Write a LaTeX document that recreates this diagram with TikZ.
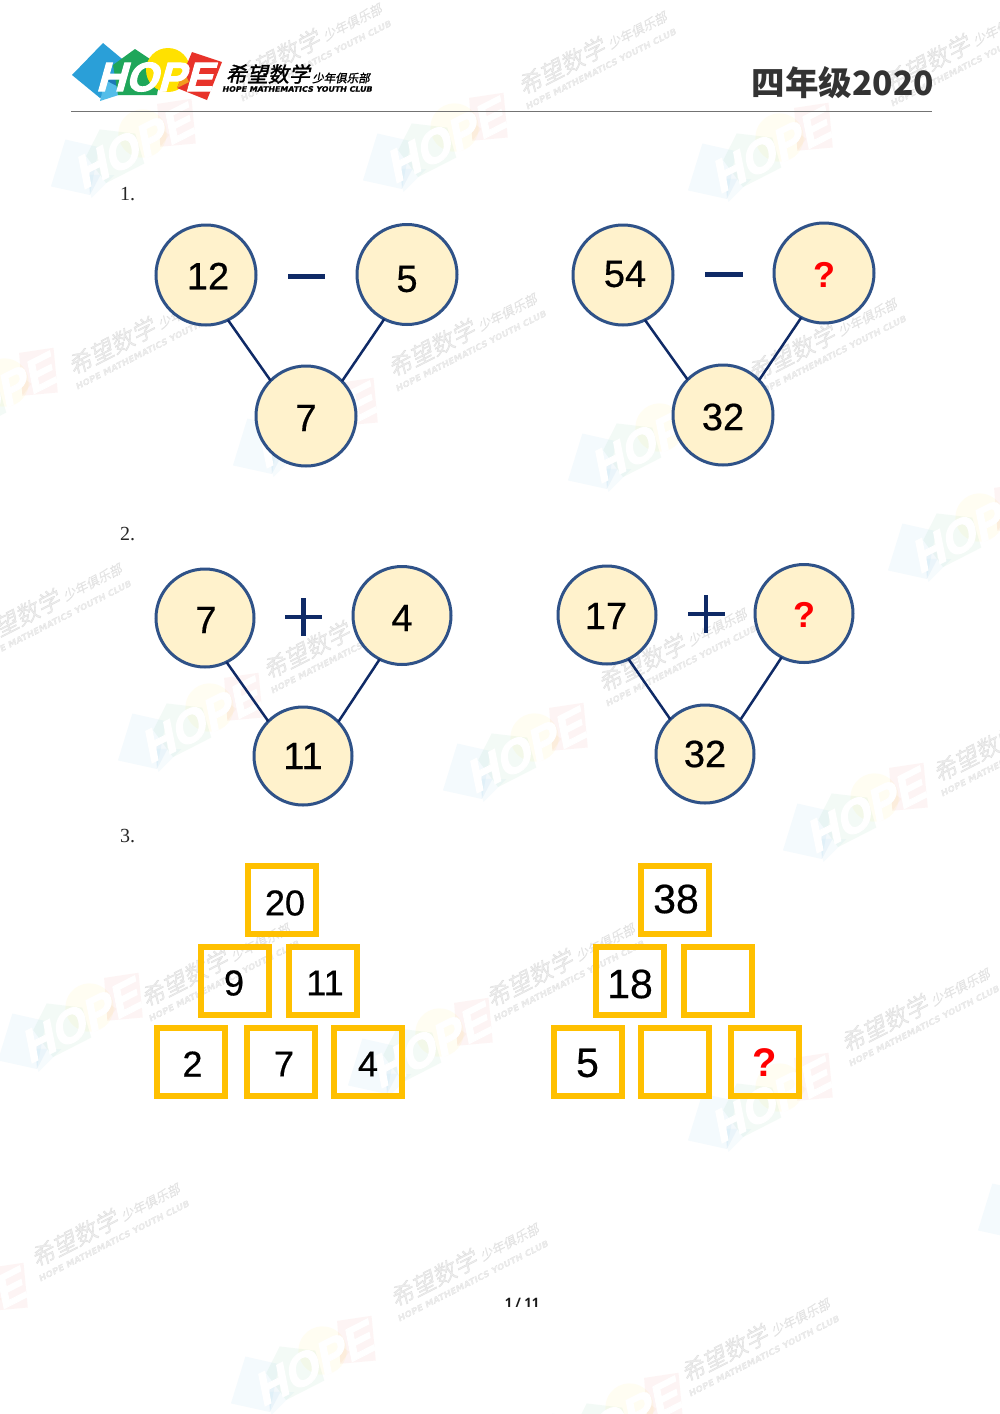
\documentclass[tikz,border=0pt]{standalone}
\usepackage{fontspec}
\setmainfont{Liberation Sans}
\newfontfamily\numfont[FakeBold=0.5]{Liberation Sans}
\newfontfamily\logofont[FakeBold=2.5,FakeSlant=0.28]{Liberation Sans}
\newfontfamily\serifnum{Liberation Serif}
\newfontfamily\cjkfont{Noto Sans CJK SC}
\newfontfamily\cjkslant[FakeSlant=0.2,FakeBold=1.5]{Noto Sans CJK SC}
\newfontfamily\latinslant[FakeBold=1,FakeSlant=0.2,FakeStretch=1.05]{DejaVu Sans}
\newfontfamily\footfont{Open Sans}
\definecolor{cfill}{HTML}{FFF2CC}
\definecolor{cline}{HTML}{2F5288}
\definecolor{navy}{HTML}{0F2A66}
\definecolor{boxc}{HTML}{FFC000}
\definecolor{lblue}{HTML}{2A9FD8}
\definecolor{llight}{HTML}{54BDE9}
\definecolor{ldark}{HTML}{1A78B8}
\definecolor{lgreen}{HTML}{1FA65A}
\definecolor{lyellow}{HTML}{FFE100}
\definecolor{lred}{HTML}{E8332A}
\definecolor{lorange}{HTML}{F39A1E}
\tikzset{
  bigcirc/.style={circle,draw=cline,fill=cfill,line width=3pt,minimum size=100pt,inner sep=0pt,outer sep=0pt},
  midcirc/.style={bigcirc,minimum size=98pt},
  numtxt/.style={inner sep=0pt,outer sep=0pt,font=\numfont\fontsize{38}{38}\selectfont,text=black},
  boxnum/.style={numtxt,font=\numfont\fontsize{36}{36}\selectfont},
  boxnumb/.style={numtxt,font=\numfont\fontsize{41}{41}\selectfont},
  quest/.style={inner sep=0pt,outer sep=0pt,font=\bfseries\fontsize{36}{36}\selectfont,text=red},
  questb/.style={quest,font=\bfseries\fontsize{40}{40}\selectfont},
  conn/.style={draw=navy,line width=2.5pt},
  opbar/.style={draw=navy,line width=5pt},
  opplus/.style={draw=navy,line width=4.5pt},
  numbox/.style={rectangle,draw=boxc,line width=6pt,minimum size=68pt,inner sep=0pt,outer sep=0pt},
  qlabel/.style={inner sep=0pt,font=\serifnum\fontsize{20}{20}\selectfont,text=black!85},
  wmtext/.style={inner sep=0pt,text=black,text opacity=.075}
}
\newcommand{\hopeshapes}[1]{%
  \fill[lblue] (-44,-29) -- (-75,3) -- (-47,26) -- (-20,-9) -- cycle;
  \fill[ldark] (-47,26) -- (-38,8) -- (-26,2) -- (-30,14) -- cycle;
  \fill[llight] (-47,29) -- (-42,8) -- (-19,20) -- cycle;
  \fill[lgreen] (-12,-23) -- (-34,-7) -- (-29,23) -- (10,23) -- (15,-5) -- cycle;
  \fill[lyellow] (21,-2) circle[radius=22];
  \fill[lred] (45,-20) -- (75,-10) -- (60,28) -- (30,16) -- cycle;
  \fill[lorange] (30,16) -- (37,0) -- (42,10) -- cycle;
  \node[inner sep=0pt,text=white,text opacity=1,font=\logofont\bfseries\fontsize{41}{41}\selectfont] (#1) at (7,5) {HOPE};
}
\newcommand{\wmlogo}[3]{%
  \begin{scope}[shift={(#1,#2)},rotate=27,scale=1.1,transform shape,fill opacity=.05]
    \hopeshapes{#3}
  \end{scope}}
\newcommand{\wmword}[3]{%
  \begin{scope}[shift={(#1,#2)},rotate=27,scale=1.12,transform shape]
    \node[wmtext,font=\cjkslant\fontsize{21}{21}\selectfont] (#3a) at (-30,-7) {希望数学};
    \node[wmtext,font=\cjkslant\fontsize{11.5}{11.5}\selectfont] (#3b) at (45,-5) {少年俱乐部};
    \node[wmtext,font=\latinslant\bfseries\fontsize{7.5}{7.5}\selectfont] (#3c) at (0,11) {HOPE MATHEMATICS YOUTH CLUB};
  \end{scope}}
\begin{document}
\begin{tikzpicture}[x=1pt,y=-1pt]
\useasboundingbox (0,0) rectangle (1000,1414);
\fill[white] (0,0) rectangle (1000,1414);
% watermarks
\wmlogo{123}{146}{wa}\wmword{310}{50}{wb}
\wmlogo{435}{140}{wc}\wmword{595}{58}{wd}
\wmlogo{760}{150}{we}\wmword{960}{55}{wf}
\wmlogo{-15}{395}{wg}\wmword{145}{338}{wh}
\wmlogo{305}{425}{wi}\wmword{465}{340}{wj}
\wmlogo{640}{440}{wk}\wmword{825}{345}{wl}
\wmlogo{960}{530}{wm}\wmword{50}{610}{wn}
\wmlogo{190}{720}{wo}\wmword{340}{642}{wp}
\wmlogo{515}{750}{wq}\wmword{675}{655}{wr}
\wmlogo{855}{810}{ws}\wmword{1010}{745}{wt}
\wmlogo{70}{1020}{wu}\wmword{218}{970}{wv}
\wmlogo{420}{1045}{wx}\wmword{563}{970}{wy}
\wmlogo{760}{1100}{wz}\wmword{918}{1015}{xa}
\wmlogo{1050}{1190}{xb}
\wmlogo{-45}{1310}{xc}\wmword{108}{1230}{xd}
\wmlogo{303}{1363}{xe}\wmword{467}{1270}{xf}
\wmlogo{610}{1420}{xg}\wmword{758}{1345}{xh}
% header logo
\begin{scope}[shift={(147,72)}]
  \hopeshapes{hope}
\end{scope}
\node[inner sep=0pt,text=black,font=\cjkslant\fontsize{21}{21}\selectfont] (cn) at (268,74) {希望数学};
\node[inner sep=0pt,text=black,font=\cjkslant\fontsize{11.5}{11.5}\selectfont] (cns) at (341,78) {少年俱乐部};
\node[inner sep=0pt,text=black,font=\latinslant\bfseries\fontsize{7.5}{7.5}\selectfont] (en) at (297,89) {HOPE MATHEMATICS YOUTH CLUB};
\coordinate (ruleL) at (71,111.5);
\coordinate (ruleR) at (932,111.5);
\draw[draw=black!55,line width=1.5pt] (ruleL) -- (ruleR);
\node[inner sep=0pt,anchor=east,text=black!80,font=\cjkfont\bfseries\fontsize{33.5}{33.5}\selectfont] (grade) at (934,83) {四年级2020};
% labels
\node[qlabel,anchor=west] (q1) at (120,194) {1.};
\node[qlabel,anchor=west] (q2) at (120,534) {2.};
\node[qlabel,anchor=west] (q3) at (120,836) {3.};
% Q1 left
\node[bigcirc] (a1) at (206,275) {};
\node[bigcirc] (a2) at (407,274.5) {};
\node[bigcirc] (a3) at (306,416) {};
\draw[conn] (a1.-64) -- (a3.135);
\draw[conn] (a2.-117) -- (a3.44);
\node[numtxt] (a1t) at (208,276) {12};
\node[numtxt] (a2t) at (407,279) {5};
\node[numtxt] (a3t) at (306,418) {7};
\coordinate (m1a) at (288,276); \coordinate (m1b) at (325,276);
\draw[opbar] (m1a) -- (m1b);
% Q1 right
\node[bigcirc] (b1) at (623,275) {};
\node[bigcirc] (b2) at (824,273) {};
\node[bigcirc] (b3) at (723,415) {};
\draw[conn] (b1.-64) -- (b3.135);
\draw[conn] (b2.-117) -- (b3.44);
\node[numtxt] (b1t) at (625,274) {54};
\node[quest] (b2t) at (824,275) {?};
\node[numtxt] (b3t) at (723,417) {32};
\coordinate (m2a) at (705,274); \coordinate (m2b) at (743,274);
\draw[opbar] (m2a) -- (m2b);
% Q2 left
\node[midcirc] (c1) at (205,618) {};
\node[midcirc] (c2) at (402,615.5) {};
\node[midcirc] (c3) at (303,756) {};
\draw[conn] (c1.-64) -- (c3.135);
\draw[conn] (c2.-117) -- (c3.44);
\node[numtxt] (c1t) at (206,620) {7};
\node[numtxt] (c2t) at (402,618) {4};
\node[numtxt] (c3t) at (303,756) {11};
\coordinate (p1l) at (285,617); \coordinate (p1r) at (322,617);
\coordinate (p1t) at (303.5,598); \coordinate (p1b) at (303.5,636);
\draw[opplus] (p1l) -- (p1r);
\draw[opplus] (p1t) -- (p1b);
% Q2 right
\node[midcirc] (d1) at (607,615) {};
\node[midcirc] (d2) at (804,613.5) {};
\node[midcirc] (d3) at (705,754) {};
\draw[conn] (d1.-64) -- (d3.135);
\draw[conn] (d2.-117) -- (d3.44);
\node[numtxt] (d1t) at (606,616) {17};
\node[quest] (d2t) at (804,615) {?};
\node[numtxt] (d3t) at (705,754) {32};
\coordinate (p2l) at (688,614); \coordinate (p2r) at (725,614);
\coordinate (p2t) at (706,595); \coordinate (p2b) at (706,633);
\draw[opplus] (p2l) -- (p2r);
\draw[opplus] (p2t) -- (p2b);
% Q3 left
\node[numbox] (e1) at (282,899.5) {};
\node[numbox] (e2) at (234.5,980.5) {};
\node[numbox] (e3) at (323,980.5) {};
\node[numbox] (e4) at (191,1062) {};
\node[numbox] (e5) at (280.5,1062) {};
\node[numbox] (e6) at (368,1062) {};
\node[boxnum] (e1t) at (285,903) {20};
\node[boxnum] (e2t) at (234,983) {9};
\node[boxnum] (e3t) at (325,983) {11};
\node[boxnum] (e4t) at (192.5,1064) {2};
\node[boxnum] (e5t) at (284,1064) {7};
\node[boxnum] (e6t) at (368,1064) {4};
% Q3 right
\node[numbox] (f1) at (675,899.5) {};
\node[numbox] (f2) at (630,981) {};
\node[numbox] (f3) at (718,981) {};
\node[numbox] (f4) at (588,1062) {};
\node[numbox] (f5) at (675,1062) {};
\node[numbox] (f6) at (765,1062) {};
\node[boxnumb] (f1t) at (676,899) {38};
\node[boxnumb] (f2t) at (630,984) {18};
\node[boxnumb] (f4t) at (587.5,1063) {5};
\node[questb] (f6t) at (765,1063) {?};
% footer
\node[inner sep=0pt,text=black!90,font=\footfont\bfseries\fontsize{13}{13}\selectfont] (pg) at (522,1303) {1 / 11};
\end{tikzpicture}
\end{document}
